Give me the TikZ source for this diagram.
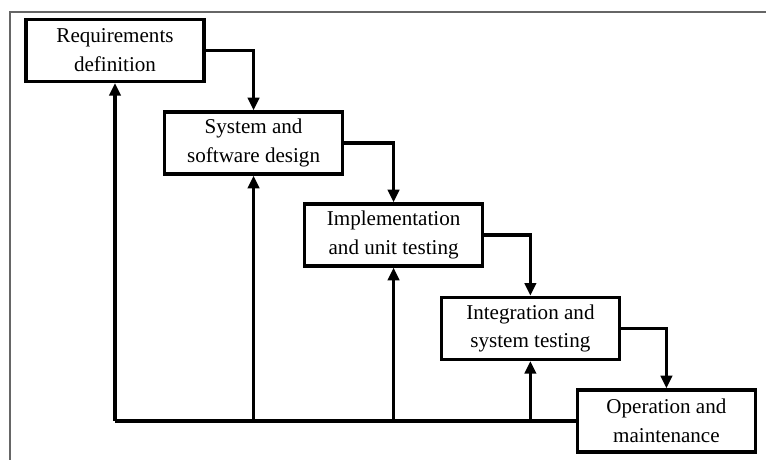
\documentclass[tikz,border=0pt]{standalone}
\usepackage{fontspec}
\setmainfont{Liberation Serif}
\usepackage{tikz}
\usetikzlibrary{arrows.meta}

\tikzset{
  phase/.style={draw, line width=2.3pt, minimum width=4.45cm, minimum height=1.55cm,
    align=center, font=\fontsize{15}{20.5}\selectfont},
  flow/.style={line width=2.3pt, -{Triangle[length=9pt,width=8pt]}},
  backline/.style={line width=2.3pt}
}

\begin{document}
\begin{tikzpicture}
\useasboundingbox (0, 0) rectangle (19.15, 11.5);
\draw[black!60, line width=1.4pt] (0.25, 0) -- (0.25, 11.2) -- (19.15, 11.2);

\node[phase] (req) at (2.875, 10.24) {Requirements\\definition};
\node[phase] (sys) at (6.34, 7.925) {System and\\software design};
\node[phase] (impl) at (9.84, 5.625) {Implementation\\and unit testing};
\node[phase] (integ) at (13.26, 3.29) {Integration and\\system testing};
\node[phase] (op) at (16.66, 0.975) {Operation and\\maintenance};

\draw[flow] (req.east) -| (sys.north);
\draw[flow] (sys.east) -| (impl.north);
\draw[flow] (impl.east) -| (integ.north);
\draw[flow] (integ.east) -| (op.north);

\draw[backline] (op.west) -- (op.west -| req.south);
\draw[flow] (op.west -| req.south) -- (req.south);
\draw[flow] (op.west -| sys.south) -- (sys.south);
\draw[flow] (op.west -| impl.south) -- (impl.south);
\draw[flow] (op.west -| integ.south) -- (integ.south);
\end{tikzpicture}
\end{document}
